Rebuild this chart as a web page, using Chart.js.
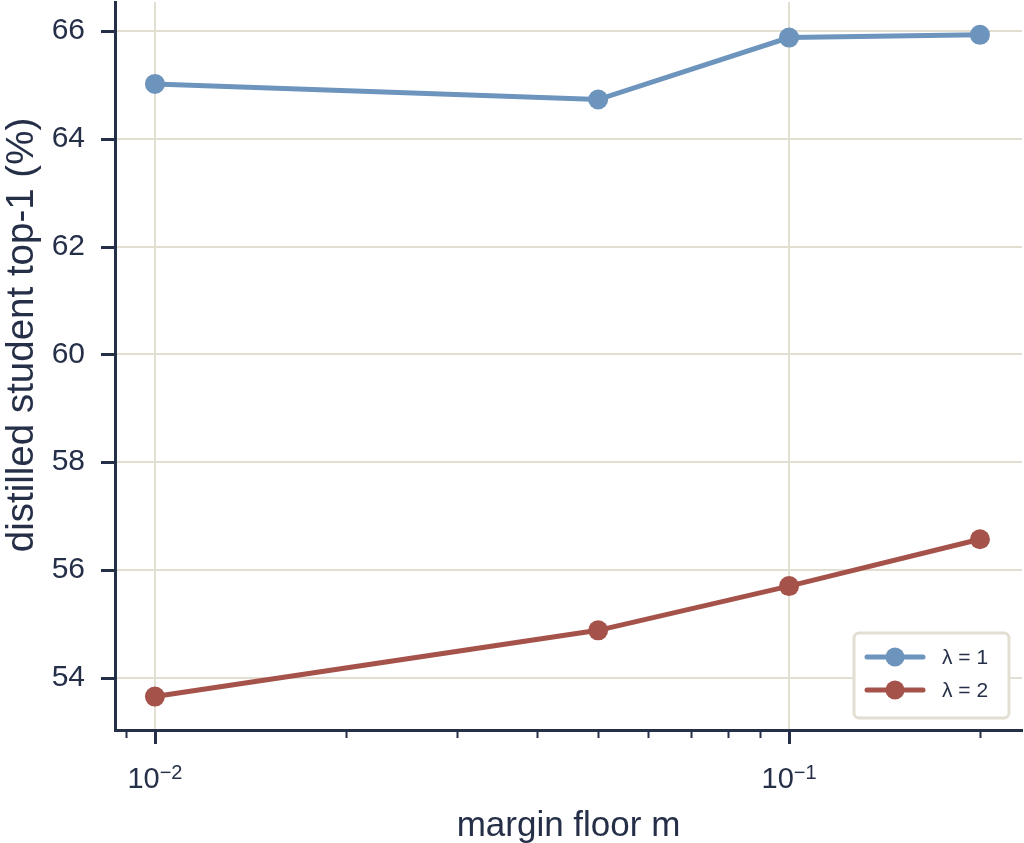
<!DOCTYPE html>
<html><head><meta charset="utf-8">
<script src="https://cdn.jsdelivr.net/npm/chart.js@4/dist/chart.umd.min.js"></script>
<style>html,body{margin:0;padding:0;background:#fff;overflow:hidden}#wrap{width:1024px;height:843px;position:relative}</style>
</head><body><div id="wrap"><canvas id="c" width="1024" height="843"></canvas></div>
<script>
// ---- data ----
const marginFloor = [0.01, 0.05, 0.1, 0.2];
const lambda1Top1 = [65.02, 64.73, 65.88, 65.93];
const lambda2Top1 = [53.65, 54.88, 55.70, 56.57];
const seriesLabels = ['λ = 1', 'λ = 2'];
const yTickValues = [54, 56, 58, 60, 62, 64, 66];
const xMajorTicks = [0.01, 0.1];
const xMinorTicks = [0.009, 0.02, 0.03, 0.04, 0.05, 0.06, 0.07, 0.08, 0.09, 0.2];
const xTickBase = '10';
const xTickExponents = ['−2', '−1'];
const xTitle = 'margin floor m';
const yTitle = 'distilled student top-1 (%)';

// ---- style ----
const INK = '#252f47';
const GRID = '#e3ded2';
const BLUE = '#6d94bd';
const RED = '#a5534a';
const FONT = '"Liberation Sans", Arial, Helvetica, sans-serif';

const near = (a, b) => Math.abs(a - b) < 1e-9 * Math.max(1, Math.abs(b));
const isMajor = v => xMajorTicks.some(m => near(v, m));

const tickMarks = {
  id: 'tickMarks',
  afterDraw(chart) {
    const ctx = chart.ctx, xs = chart.scales.x, ys = chart.scales.y;
    const ca = chart.chartArea;
    ctx.save();
    ctx.strokeStyle = INK;
    ys.ticks.forEach(t => {
      const y = Math.round(ys.getPixelForValue(t.value)) + 0.5;
      ctx.lineWidth = 3;
      ctx.beginPath(); ctx.moveTo(ca.left - 14, y); ctx.lineTo(ca.left, y); ctx.stroke();
    });
    xs.ticks.forEach(t => {
      const x = Math.round(xs.getPixelForValue(t.value)) + 0.5;
      const major = isMajor(t.value);
      ctx.lineWidth = major ? 3 : 2;
      ctx.beginPath(); ctx.moveTo(x, ca.bottom); ctx.lineTo(x, ca.bottom + (major ? 14 : 8)); ctx.stroke();
    });
    // x major tick labels: base with raised exponent
    ctx.fillStyle = INK;
    ctx.textBaseline = 'alphabetic';
    xMajorTicks.forEach((v, i) => {
      const x = xs.getPixelForValue(v);
      ctx.font = '29px ' + FONT;
      const wb = ctx.measureText(xTickBase).width;
      ctx.font = '20px ' + FONT;
      const we = ctx.measureText(xTickExponents[i]).width;
      const x0 = x - (wb + we) / 2;
      ctx.font = '29px ' + FONT;
      ctx.textAlign = 'left';
      ctx.fillText(xTickBase, x0, 788);
      ctx.font = '20px ' + FONT;
      ctx.fillText(xTickExponents[i], x0 + wb, 779);
    });
    ctx.restore();
  }
};

const titles = {
  id: 'titles',
  afterDraw(chart) {
    const ctx = chart.ctx, ca = chart.chartArea;
    ctx.save();
    ctx.fillStyle = INK;
    ctx.font = '35px ' + FONT;
    ctx.textAlign = 'center';
    ctx.textBaseline = 'alphabetic';
    ctx.fillText(xTitle, (ca.left + ca.right) / 2, 836);
    ctx.font = '38.5px ' + FONT;
    ctx.translate(33, 335);
    ctx.rotate(-Math.PI / 2);
    ctx.fillText(yTitle, 0, 0);
    ctx.restore();
  }
};

const legendBox = {
  id: 'legendBox',
  afterDraw(chart) {
    const ctx = chart.ctx;
    ctx.save();
    ctx.beginPath();
    ctx.roundRect(854, 633, 155, 85, 5);
    ctx.fillStyle = '#ffffff';
    ctx.fill();
    ctx.lineWidth = 3;
    ctx.strokeStyle = GRID;
    ctx.stroke();
    chart.data.datasets.forEach((ds, i) => {
      const y = 657 + i * 33;
      ctx.strokeStyle = ds.borderColor;
      ctx.lineWidth = 5;
      ctx.lineCap = 'round';
      ctx.beginPath(); ctx.moveTo(867, y); ctx.lineTo(923, y); ctx.stroke();
      ctx.fillStyle = ds.borderColor;
      ctx.beginPath(); ctx.arc(895, y, 9.5, 0, Math.PI * 2); ctx.fill();
      ctx.fillStyle = INK;
      ctx.font = '21px ' + FONT;
      ctx.textAlign = 'left';
      ctx.textBaseline = 'middle';
      ctx.fillText(ds.label, 942, y + 1);
    });
    ctx.restore();
  }
};

const mkData = arr => marginFloor.map((x, i) => ({ x: x, y: arr[i] }));
const zeroPad = s => { s.paddingTop = 0; s.paddingBottom = 0; s.paddingLeft = 0; s.paddingRight = 0; };

new Chart(document.getElementById('c'), {
  type: 'line',
  data: {
    datasets: [
      { label: seriesLabels[0], data: mkData(lambda1Top1), borderColor: BLUE, backgroundColor: BLUE,
        borderWidth: 5, pointRadius: 10, pointBorderWidth: 0, pointBackgroundColor: BLUE, tension: 0 },
      { label: seriesLabels[1], data: mkData(lambda2Top1), borderColor: RED, backgroundColor: RED,
        borderWidth: 5, pointRadius: 10, pointBorderWidth: 0, pointBackgroundColor: RED, tension: 0 }
    ]
  },
  options: {
    responsive: false,
    animation: false,
    devicePixelRatio: 1,
    layout: { autoPadding: false, padding: { top: 2, right: 2, left: 0, bottom: 0 } },
    plugins: { legend: { display: false }, tooltip: { enabled: false } },
    scales: {
      x: {
        type: 'logarithmic',
        min: 0.00865, max: 0.233,
        afterBuildTicks: s => {
          s.ticks = xMinorTicks.concat(xMajorTicks).sort((a, b) => a - b).map(v => ({ value: v, major: isMajor(v) }));
        },
        afterFit: s => { s.height = 113; zeroPad(s); },
        ticks: {
          autoSkip: false, maxRotation: 0, minRotation: 0,
          color: INK, padding: 32,
          font: { family: FONT, size: 28 },
          callback: () => ''
        },
        grid: {
          drawTicks: false, lineWidth: 2,
          color: c => (c.tick && isMajor(c.tick.value)) ? GRID : 'rgba(0,0,0,0)'
        },
        border: { display: true, color: INK, width: 3 }
      },
      y: {
        type: 'linear',
        min: 53.03, max: 66.54,
        afterBuildTicks: s => { s.ticks = yTickValues.map(v => ({ value: v })); },
        afterFit: s => { s.width = 115; zeroPad(s); },
        ticks: { color: INK, padding: 30, font: { family: FONT, size: 30 } },
        grid: { drawTicks: false, lineWidth: 2, color: GRID },
        border: { display: true, color: INK, width: 3 }
      }
    }
  },
  plugins: [tickMarks, titles, legendBox]
});
</script>
</body></html>
